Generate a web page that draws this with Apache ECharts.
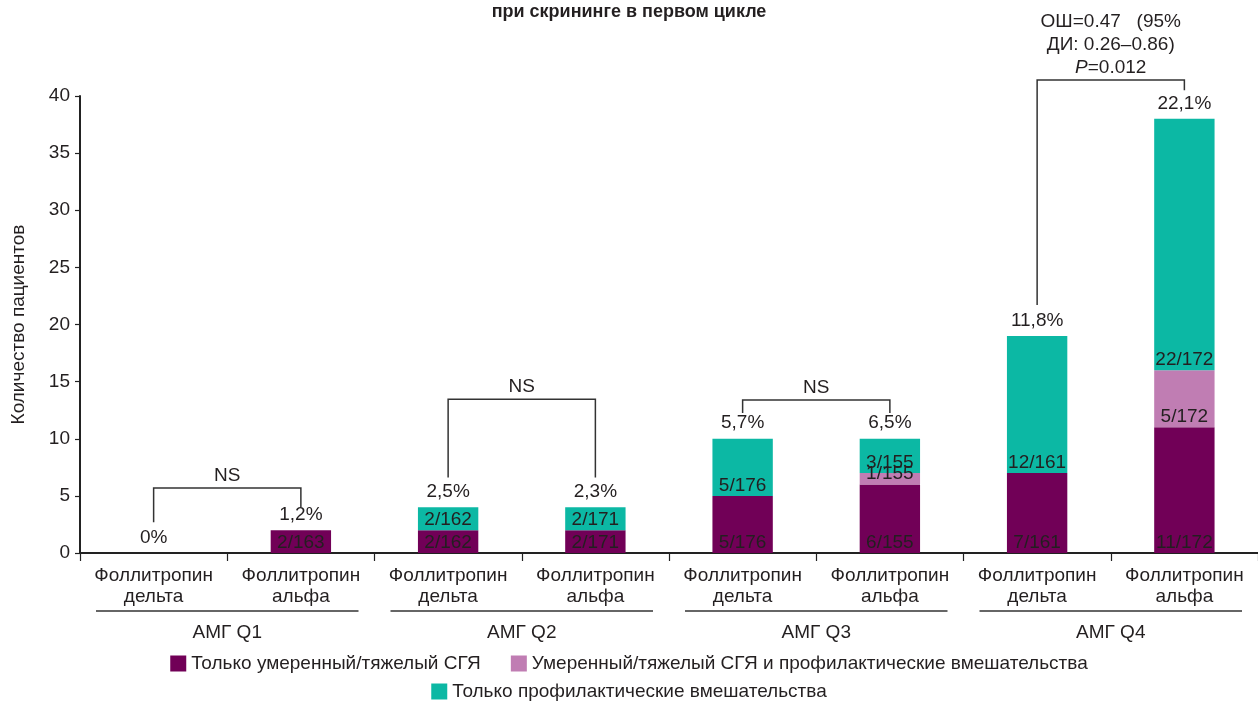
<!DOCTYPE html>
<html><head><meta charset="utf-8">
<script src="https://cdn.jsdelivr.net/npm/echarts@6/dist/echarts.min.js"></script>
<style>html,body{margin:0;padding:0;background:#fff}#c{width:1258px;height:701px}</style>
</head><body><div id="c"></div>
<script>
// ---- data ----
const categories = ['Фоллитропин\nдельта','Фоллитропин\nальфа','Фоллитропин\nдельта','Фоллитропин\nальфа','Фоллитропин\nдельта','Фоллитропин\nальфа','Фоллитропин\nдельта','Фоллитропин\nальфа'];
const groups = ['АМГ Q1','АМГ Q2','АМГ Q3','АМГ Q4'];
const seriesNames = ['Только умеренный/тяжелый СГЯ','Умеренный/тяжелый СГЯ и профилактические вмешательства','Только профилактические вмешательства'];
const onlyOhss = [0, 2, 2, 2, 5, 6, 7, 11];
const ohssAndPrev = [0, 0, 0, 0, 0, 1, 0, 5];
const onlyPrev = [0, 0, 2, 2, 5, 3, 12, 22];
const denominators = [null, 163, 162, 171, 176, 155, 161, 172];
const pctLabels = ['0%','1,2%','2,5%','2,3%','5,7%','6,5%','11,8%','22,1%'];
const yTicks = {min: 0, max: 40, interval: 5};
// brackets: [leftCat, rightCat, barLevel, leftLegEnd, rightLegEnd, label]
const brackets = [
  [0, 1, 5.7, 2.7, 4.0, 'NS'],
  [2, 3, 13.45, 6.6, 6.6, 'NS'],
  [4, 5, 13.4, 12.25, 12.25, 'NS'],
  [6, 7, 41.4, 21.7, 40.5, 'ОШ=0.47   (95%\nДИ: 0.26–0.86)\n{i|P}=0.012']
];

const TXT = '#231f20';
const FONT = 'Liberation Sans';
const FS = 19;
const colors = ['#710057', '#c07db3', '#0cb8a4'];
const totals = onlyOhss.map((v, i) => v + ohssAndPrev[i] + onlyPrev[i]);

function segLabel(p) {
  return p.value > 0 ? p.value + '/' + denominators[p.dataIndex] : '';
}

function barSeries(name, data, color) {
  return {
    name, type: 'bar', stack: 's', data, barWidth: '41%',
    itemStyle: {color},
    label: {show: true, position: 'insideBottom', distance: 1, formatter: segLabel,
      color: TXT, fontSize: FS, fontFamily: FONT},
    emphasis: {disabled: true}, z: 2
  };
}

const chart = echarts.init(document.getElementById('c'), null, {renderer: 'canvas'});
chart.setOption({
  animation: false,
  textStyle: {fontFamily: FONT, color: TXT},
  title: {text: 'при скрининге в первом цикле', left: 'center', top: -2,
    textStyle: {fontSize: 18, fontWeight: 'bold', color: TXT, fontFamily: FONT}},
  grid: {left: 80, right: 0, top: 96, bottom: 148, containLabel: false},
  legend: [
    {data: seriesNames.slice(0, 2), left: 'center', top: 654, padding: 0, icon: 'rect', itemWidth: 16, itemHeight: 16,
      itemGap: 30, textStyle: {fontSize: FS, color: TXT, fontFamily: FONT}, selectedMode: false},
    {data: seriesNames.slice(2), left: 'center', top: 682, padding: 0, icon: 'rect', itemWidth: 16, itemHeight: 16,
      textStyle: {fontSize: FS, color: TXT, fontFamily: FONT}, selectedMode: false}
  ],
  xAxis: {
    type: 'category', data: categories,
    axisLine: {lineStyle: {color: '#222', width: 2}},
    axisTick: {show: true, length: 8, lineStyle: {color: '#222', width: 1.2}},
    axisLabel: {interval: 0, fontSize: FS, lineHeight: 21, color: TXT, margin: 12, fontFamily: FONT},
    splitLine: {show: false}
  },
  yAxis: {
    type: 'value', min: yTicks.min, max: yTicks.max, interval: yTicks.interval,
    name: 'Количество пациентов', nameLocation: 'middle', nameGap: 52, nameRotate: 90,
    nameTextStyle: {fontSize: FS, color: TXT, fontFamily: FONT},
    axisLine: {show: true, lineStyle: {color: '#222', width: 2}},
    axisTick: {show: true, length: 5, lineStyle: {color: '#222', width: 1.2}},
    axisLabel: {fontSize: FS, color: TXT, margin: 10, fontFamily: FONT},
    splitLine: {show: false}
  },
  series: [
    barSeries(seriesNames[0], onlyOhss, colors[0]),
    barSeries(seriesNames[1], ohssAndPrev, colors[1]),
    barSeries(seriesNames[2], onlyPrev, colors[2]),
    {
      type: 'scatter', data: totals.map((t, i) => [i, t]), symbolSize: 2,
      itemStyle: {color: 'rgba(0,0,0,0)', opacity: 1}, silent: true, z: 5,
      label: {show: true, position: 'top', distance: 5, fontSize: FS, color: TXT, fontFamily: FONT,
        formatter: p => pctLabels[p.dataIndex]}
    },
    {
      type: 'custom', silent: true, clip: false, z: 6,
      data: brackets.map((b, i) => [i, 0]),
      renderItem: function (params, api) {
        const b = brackets[params.dataIndex];
        const pL = api.coord([b[0], b[2]]);
        const pR = api.coord([b[1], b[2]]);
        const lEnd = api.coord([b[0], b[3]]);
        const rEnd = api.coord([b[1], b[4]]);
        return {
          type: 'group', children: [
            {type: 'polyline', shape: {points: [[pL[0], lEnd[1]], [pL[0], pL[1]], [pR[0], pR[1]], [pR[0], rEnd[1]]]},
              style: {stroke: '#333', lineWidth: 1.5, fill: null}},
            {type: 'text', x: (pL[0] + pR[0]) / 2, y: pL[1] - 1,
              style: {text: b[5], fill: TXT, fontSize: FS, fontFamily: FONT, align: 'center', verticalAlign: 'bottom',
                lineHeight: 23, rich: {i: {fontStyle: 'italic', fontSize: FS, fontFamily: FONT, fill: TXT, lineHeight: 23}}}}
          ]
        };
      }
    },
    {
      type: 'custom', silent: true, clip: false, z: 6,
      data: groups.map((g, i) => [i, 0]),
      renderItem: function (params, api) {
        const g = params.dataIndex;
        const p0 = api.coord([2 * g, 0]);
        const p1 = api.coord([2 * g + 1, 0]);
        const band = api.size([1, 0])[0];
        const x0 = p0[0] - band / 2 + 16, x1 = p1[0] + band / 2 - 16;
        return {
          type: 'group', children: [
            {type: 'line', shape: {x1: x0, y1: p0[1] + 58, x2: x1, y2: p0[1] + 58},
              style: {stroke: '#333', lineWidth: 1.5}},
            {type: 'text', x: (x0 + x1) / 2, y: p0[1] + 80,
              style: {text: groups[g], fill: TXT, fontSize: FS, fontFamily: FONT, align: 'center', verticalAlign: 'middle'}}
          ]
        };
      }
    }
  ]
});
</script>
</body></html>
